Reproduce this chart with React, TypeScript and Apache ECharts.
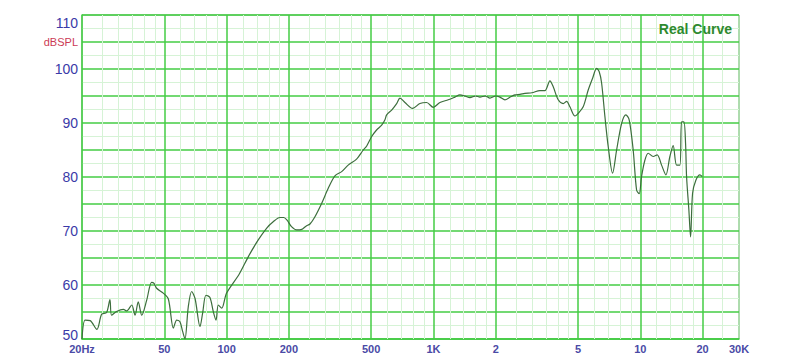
import React, { useEffect, useRef } from "react";
import * as echarts from "echarts";

// Measured response (frequency in Hz, level in dB SPL)
const freqHz = [
  20, 20.7, 21.9, 23.6, 24.9, 26.3, 27.3, 27.8, 29.4, 31.7, 32.9, 34.8, 36.1, 37.4, 38.9, 41.1,
  43.4, 44.6, 45.9, 49.4, 52.3, 55.3, 57.4, 59.5, 61.3, 62.9, 65.3, 67.8, 70.4, 74.4, 76.6, 79.5,
  83.1, 86.2, 88.9, 91.2, 94.7, 100, 115, 128, 142, 156, 168, 181, 189, 196, 206, 218, 231, 242,
  253, 267, 288, 310, 334, 360, 387, 425, 458, 475, 503, 531, 562, 583, 594, 628, 664, 689, 728,
  793, 860, 927, 998, 1075, 1179, 1270, 1342, 1420, 1502, 1600, 1678, 1780, 1876, 2000, 2096,
  2216, 2350, 2476, 2620, 2768, 2992, 3270, 3458, 3656, 3794, 4010, 4240, 4404, 4568, 4830, 5010,
  5296, 5600, 5882, 6150, 6330, 6500, 6744, 6998, 7346, 7682, 8120, 8518, 8836, 9238, 9594, 9876,
  10142, 10522, 10918, 11544, 12068, 12672, 13294, 13900, 14420, 14976, 15536, 15832, 16242,
  16552, 16736, 17172, 17500, 17894, 18562, 19410, 19910,
];
const splDb = [
  50, 53.5, 53.4, 51.8, 54.6, 54.9, 57.3, 54.4, 55.1, 55.5, 55.2, 56.3, 54.4, 56.9, 54.4, 57.2,
  60.5, 60.3, 59.4, 58.5, 57.4, 52, 53.5, 53.2, 51.4, 50, 56, 58.8, 57.5, 52.3, 54.8, 58.1,
  57.7, 55.1, 53.5, 56.3, 55.7, 58.5, 62, 65.4, 68.3, 70.5, 71.7, 72.5, 72.5, 72, 70.8, 70.2, 70.3, 70.9,
  71.3, 72.6, 75.1, 77.9, 80.2, 81, 82.2, 83.3, 85, 85.7, 87.5, 88.7, 89.6, 90.6, 91.5, 92.4, 93.6, 94.6, 93.8,
  92.7, 93.6, 93.8, 92.9, 93.8, 94.3, 94.8, 95.2, 95.0, 94.7, 95.0, 94.8, 95.0, 94.6, 95.0, 94.8,
  94.3, 94.8, 95.2, 95.3, 95.5, 95.6, 96, 96, 97.8, 96.7, 94.3, 93.6, 94, 93, 91.3, 91.8,
  93, 96.1, 98.3, 100.1, 99.5, 97.4, 91.2, 85.6, 80.7, 85, 89.9, 91.5, 90.6, 85, 77.6, 76.9,
  80.1, 83.1, 84.4, 83.8, 84.1, 82.2, 80.4, 83.8, 85.8, 82.2, 82.2, 90.2, 90.2,
  86.2, 80.1, 73.9, 68.9, 77, 79.4, 80.4, 80.1,
];

// Frequency grid
const majorFreqs = [50, 100, 200, 500, 1000, 2000, 5000, 10000, 20000];
const minorFreqs = [
  25, 30, 35, 40, 45, 60, 70, 80, 90, 120, 140, 160, 180, 250, 300, 350, 400, 450,
  600, 700, 800, 900, 1200, 1400, 1600, 1800, 2500, 3000, 3500, 4000, 4500,
  6000, 7000, 8000, 9000, 12000, 14000, 16000, 18000, 25000,
];
const xTickValues = [20, 50, 100, 200, 500, 1000, 2000, 5000, 10000, 20000, 30000];
const xTickLabels = ["20Hz", "50", "100", "200", "500", "1K", "2", "5", "10", "20", "30K"];

const MAJOR = "#44cc44";
const MINOR = "#d6f3d6";

export default function App() {
  const ref = useRef<HTMLDivElement>(null);
  useEffect(() => {
    if (!ref.current) return;
    const chart = echarts.init(ref.current, null, { renderer: "svg" });
    const points = freqHz.map((f, i) => [f, splDb[i]]);

    const gridLines: any[] = [];
    minorFreqs.forEach((f) =>
      gridLines.push({ xAxis: f, lineStyle: { color: MINOR, width: 1, type: "solid" }, label: { show: false } })
    );
    majorFreqs.forEach((f) =>
      gridLines.push({ xAxis: f, lineStyle: { color: MAJOR, width: 1.5, type: "solid" }, label: { show: false } })
    );
    xTickValues.forEach((f, i) =>
      gridLines.push({
        xAxis: f,
        lineStyle: { color: "rgba(0,0,0,0)", width: 0 },
        label: {
          show: true,
          position: "start",
          formatter: xTickLabels[i],
          color: "#4a4aa6",
          fontSize: 11,
          fontWeight: "bold",
          fontFamily: "Arial, 'Liberation Sans', sans-serif",
          distance: 4,
        },
      })
    );

    chart.setOption({
      animation: false,
      backgroundColor: "#ffffff",
      title: {
        text: "Real Curve",
        right: 63,
        top: 17,
        textStyle: {
          color: "#2e8a2e",
          fontSize: 14,
          fontWeight: "bold",
          fontFamily: "Arial, 'Liberation Sans', sans-serif",
        },
      },
      grid: {
        left: 82,
        right: 61,
        top: 15,
        bottom: 20,
        show: true,
        borderColor: "#5cb85c",
        borderWidth: 1,
        backgroundColor: "transparent",
      },
      xAxis: {
        type: "log",
        logBase: 10,
        min: 20,
        max: 30000,
        axisLine: { show: true, lineStyle: { color: MAJOR, width: 1.5 } },
        axisTick: { show: false },
        axisLabel: { show: false },
        splitLine: { show: false },
        minorSplitLine: { show: false },
      },
      yAxis: {
        type: "value",
        min: 50,
        max: 110,
        interval: 5,
        axisLine: { show: true, lineStyle: { color: MAJOR, width: 1.5 } },
        axisTick: { show: false },
        minorTick: { show: false, splitNumber: 2 },
        splitLine: { show: true, lineStyle: { color: MAJOR, width: 1.5 } },
        minorSplitLine: { show: true, lineStyle: { color: MINOR, width: 1 } },
        axisLabel: {
          margin: 4,
          color: "#3a3aa8",
          fontSize: 14,
          fontFamily: "Arial, 'Liberation Sans', sans-serif",
          formatter: (v: number) => {
            if (v === 110) return "{top|110}";
            if (v === 50) return "{bot|50}";
            if (v % 10 === 0) return String(v);
            if (v === 105) return "{u|dBSPL}";
            return "";
          },
          rich: {
            top: { color: "#3a3aa8", fontSize: 14, padding: [15, 0, 0, 0] },
            bot: { color: "#3a3aa8", fontSize: 14, padding: [0, 0, 8, 0] },
            u: { color: "#cc3a55", fontSize: 11 },
          },
        },
      },
      series: [
        {
          type: "line",
          data: points,
          z: 1,
          silent: true,
          showSymbol: false,
          lineStyle: { width: 0, opacity: 0 },
          markLine: {
            silent: true,
            symbol: ["none", "none"],
            animation: false,
            data: gridLines,
          },
        },
        {
          type: "line",
          data: points,
          z: 5,
          smooth: 0.3,
          showSymbol: false,
          silent: true,
          lineStyle: { color: "#3d6e3d", width: 1.2 },
        },
      ],
    });
    return () => chart.dispose();
  }, []);
  return (
    <div
      ref={ref}
      style={{ position: "fixed", left: 0, top: 0, width: 800, height: 359, background: "#fff" }}
    />
  );
}
